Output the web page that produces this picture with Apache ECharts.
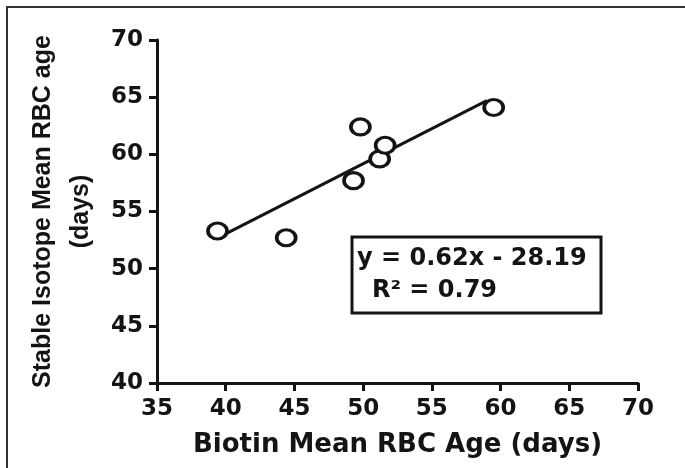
<!DOCTYPE html>
<html>
<head>
<meta charset="utf-8">
<script src="https://cdn.jsdelivr.net/npm/echarts@6/dist/echarts.min.js"></script>
<style>html,body{margin:0;padding:0;background:#fff;}#c{width:685px;height:468px;}</style>
</head>
<body>
<div id="c"></div>
<script>
var biotinAge = [39.4, 44.4, 49.3, 49.8, 51.2, 51.6, 59.5];
var isotopeAge = [53.3, 52.7, 57.7, 62.4, 59.6, 60.8, 64.1];
var fitX = [39.6, 59.0];
var fitY = [52.8, 64.7];
var xTitle = 'Biotin Mean RBC Age (days)';
var yTitle = 'Stable Isotope Mean RBC age\n(days)';
var eqLine1 = 'y = 0.62x - 28.19';
var eqLine2 = 'R\u00B2 = 0.79';

var pts = biotinAge.map(function (x, i) { return [x, isotopeAge[i]]; });
var fit = fitX.map(function (x, i) { return [x, fitY[i]]; });
var ink = '#141414';

var chart = echarts.init(document.getElementById('c'), null, {renderer: 'canvas'});
chart.setOption({
  animation: false,
  backgroundColor: '#fff',
  grid: {left: 157, top: 40, width: 481, height: 343, containLabel: false},
  xAxis: {
    type: 'value', min: 35, max: 70, interval: 5,
    name: xTitle, nameLocation: 'middle', nameGap: 49,
    nameTextStyle: {fontFamily: 'DejaVu Sans', fontWeight: 'bold', fontSize: 26, color: ink},
    axisLine: {show: true, onZero: false, lineStyle: {color: ink, width: 3}},
    axisTick: {show: true, inside: false, length: 8, lineStyle: {color: ink, width: 3}},
    axisLabel: {margin: 15, fontFamily: 'DejaVu Sans', fontWeight: 'bold', fontSize: 23, color: ink},
    splitLine: {show: false}
  },
  yAxis: {
    type: 'value', min: 40, max: 70, interval: 5,
    name: yTitle, nameLocation: 'middle', nameGap: 57, nameRotate: 90,
    nameTextStyle: {fontFamily: 'Liberation Sans', fontWeight: 'bold', fontSize: 25, lineHeight: 38, color: ink},
    axisLine: {show: true, onZero: false, lineStyle: {color: ink, width: 3}},
    axisTick: {show: true, inside: false, length: 8, lineStyle: {color: ink, width: 3}},
    axisLabel: {margin: 14, fontFamily: 'DejaVu Sans', fontWeight: 'bold', fontSize: 23, color: ink},
    splitLine: {show: false}
  },
  series: [
    {
      type: 'line', data: fit, symbol: 'none', z: 2,
      lineStyle: {color: ink, width: 3}
    },
    {
      type: 'scatter', data: pts, z: 3,
      symbol: 'circle', symbolSize: [19, 16],
      itemStyle: {color: '#fff', borderColor: ink, borderWidth: 3.4, opacity: 1}
    }
  ],
  graphic: [
    {type: 'polyline', silent: true, shape: {points: [[7, 470], [7, 7], [690, 7]]},
     style: {stroke: '#333', lineWidth: 2, fill: null}},
    {type: 'rect', silent: true, shape: {x: 352, y: 237, width: 249, height: 76},
     style: {stroke: ink, lineWidth: 3, fill: '#fff'}, z: 10},
    {type: 'text', silent: true, x: 357, y: 259, z: 11,
     style: {text: eqLine1, font: 'bold 24px "DejaVu Sans"', fill: ink, textVerticalAlign: 'middle'}},
    {type: 'text', silent: true, x: 372, y: 291, z: 11,
     style: {text: eqLine2, font: 'bold 24px "DejaVu Sans"', fill: ink, textVerticalAlign: 'middle'}}
  ]
});
</script>
</body>
</html>
